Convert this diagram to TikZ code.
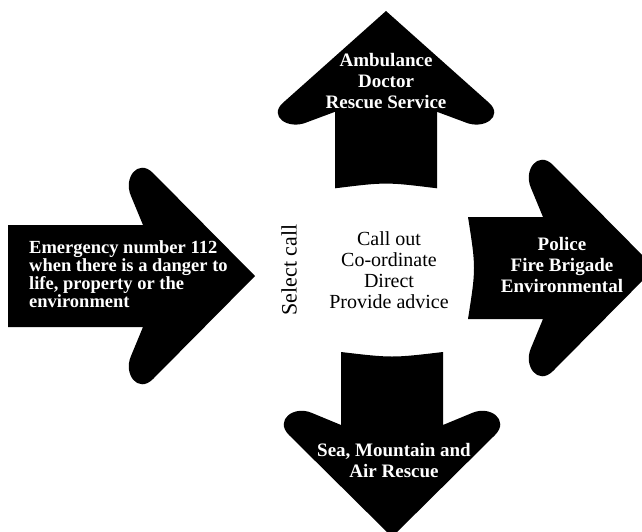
\documentclass[tikz,border=0pt]{standalone}
\usepackage{fontspec}
\setmainfont{Liberation Serif}

\tikzset{
  arrowlabel/.style={text=white, font=\bfseries\fontsize{19}{21}\selectfont, align=center, inner sep=0pt},
}

\begin{document}
\begin{tikzpicture}[x=1pt, y=1pt]
    \def\w{51};
    % arrow along +x with its tip at the origin: #1 = length, #2 = bend of the back end
    \def\arrowpath#1#2{(-#1,\w) -- (-112,\w) -- (-124,80) .. controls (-132,98) and (-117,118) .. (-102,103) -- (0,0) -- (-102,-103) .. controls (-117,-118) and (-132,-98) .. (-124,-80) -- (-112,-\w) -- (-#1,-\w) .. controls (-#1+#2,0) .. (-#1,\w) -- cycle}

    \useasboundingbox (0,0) rectangle (642,-531);
    \clip (0,0) rectangle (642,-531);

    \begin{scope}[shift={(255,-276)}]
        \fill \arrowpath{247}{0};
    \end{scope}
    \begin{scope}[shift={(386,-11)}, rotate=90, xscale=0.9]
        \fill \arrowpath{197}{7};
    \end{scope}
    \begin{scope}[shift={(655,-268)}]
        \fill \arrowpath{187}{8};
    \end{scope}
    \begin{scope}[shift={(392,-537)}, rotate=-90]
        \fill \arrowpath{185}{6};
    \end{scope}

    \node[arrowlabel] (A) at (386,-81) {Ambulance\\Doctor\\Rescue Service};
    \node[arrowlabel] (P) at (562,-265) {Police\\Fire Brigade\\Environmental};
    \node[arrowlabel] (S) at (394,-461) {Sea, Mountain and\\Air Rescue};
    \node[arrowlabel, font=\bfseries\fontsize{18.5}{18}\selectfont, align=left, anchor=west] (E) at (29,-274) {Emergency number 112\\when there is a danger to\\life, property or the\\environment};

    \node[font=\fontsize{20}{21}\selectfont, align=center] (M) at (389,-270) {Call out\\Co-ordinate\\Direct\\Provide advice};
    \node[font=\fontsize{22}{22}\selectfont, rotate=90] (K) at (289,-270) {Select call};
\end{tikzpicture}
\end{document}
